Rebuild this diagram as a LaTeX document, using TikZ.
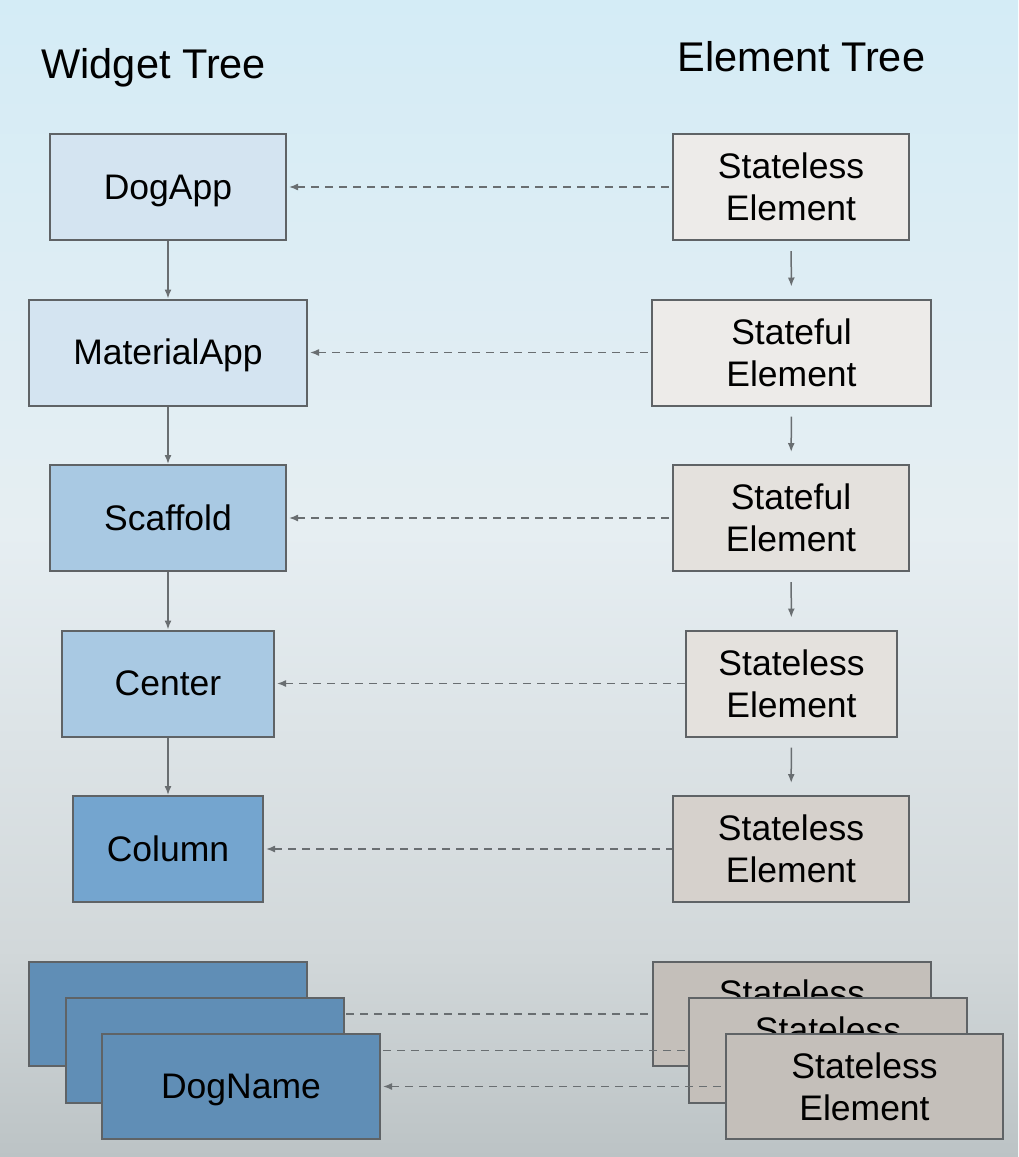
\documentclass[tikz,border=0pt]{standalone}
\usepackage{fontspec}
\setmainfont{Liberation Sans}
\usetikzlibrary{arrows.meta}

\definecolor{bgtop}{RGB}{212,236,246}
\definecolor{bgmid}{RGB}{230,238,242}
\definecolor{bglow}{RGB}{210,216,218}
\definecolor{bgbottom}{RGB}{188,195,197}
\definecolor{boxline}{RGB}{95,99,102}
\definecolor{linkgray}{RGB}{105,110,113}
\definecolor{wfillA}{RGB}{212,228,241}
\definecolor{wfillB}{RGB}{169,201,227}
\definecolor{wfillC}{RGB}{116,165,207}
\definecolor{wfillD}{RGB}{96,142,182}
\definecolor{efillA}{RGB}{237,235,233}
\definecolor{efillB}{RGB}{228,225,221}
\definecolor{efillC}{RGB}{214,209,204}
\definecolor{efillD}{RGB}{196,191,186}

% path spans 25bp..75bp of the shading
\pgfdeclareverticalshading{bgshade}{100bp}{color(0bp)=(bgbottom); color(25bp)=(bgbottom);
  color(34bp)=(bglow); color(52bp)=(bgmid); color(75bp)=(bgtop); color(100bp)=(bgtop)}

\begin{document}
\begin{tikzpicture}[x=1pt, y=-1pt, >={Latex[length=9pt,width=7pt]},
  wbox/.style={draw=boxline, line width=2pt, inner sep=0pt,
    minimum height=106pt, text height=26pt, text depth=2pt,
    font=\fontsize{35.5}{42}\selectfont},
  ebox/.style={draw=boxline, line width=2pt, inner sep=0pt,
    minimum height=106pt, align=center,
    font=\fontsize{35.5}{42}\selectfont},
  link/.style={draw=linkgray, line width=1.5pt, ->},
  map/.style={draw=linkgray, line width=1.5pt, <-, shorten <=2pt,
    dash pattern=on 8pt off 6pt}]

% Background
\shade[shading=bgshade] (0,0) rectangle (1018,1157);
\useasboundingbox (0,0) rectangle (1018,1157);

% Titles
\node[anchor=base west, font=\fontsize{41.5}{48}\selectfont] (wtitle) at (38,78) {Widget Tree};
\node[anchor=base west, font=\fontsize{41.5}{48}\selectfont] (etitle) at (674,71) {Element Tree};

% Widget tree
\node[wbox, fill=wfillA, minimum width=236pt] (dogapp) at (168,187) {DogApp};
\node[wbox, fill=wfillA, minimum width=278pt] (materialapp) at (168,352.5) {MaterialApp};
\node[wbox, fill=wfillB, minimum width=236pt] (scaffold) at (168,518) {Scaffold};
\node[wbox, fill=wfillB, minimum width=212pt] (wcenter) at (168,683.5) {Center};
\node[wbox, fill=wfillC, minimum width=190pt] (column) at (168,849) {Column};

% Element tree
\node[ebox, fill=efillA, minimum width=236pt] (elem1) at (791,187) {Stateless\\Element};
\node[ebox, fill=efillA, minimum width=279pt] (elem2) at (791.5,352.5) {Stateful\\Element};
\node[ebox, fill=efillB, minimum width=236pt] (elem3) at (791,518) {Stateful\\Element};
\node[ebox, fill=efillB, minimum width=211pt] (elem4) at (791.5,683.5) {Stateless\\Element};
\node[ebox, fill=efillC, minimum width=236pt] (elem5) at (791,849) {Stateless\\Element};

% Parent to child
\draw[link] (dogapp) -- (materialapp);
\draw[link] (materialapp) -- (scaffold);
\draw[link] (scaffold) -- (wcenter);
\draw[link] (wcenter) -- (column);
\foreach \a/\b in {elem1/elem2, elem2/elem3, elem3/elem4, elem4/elem5} {
    \draw[link, shorten <=10pt, shorten >=12pt] (\a) -- (\b);
}

% Element to widget
\draw[map] (dogapp) -- (elem1);
\draw[map] (materialapp) -- (elem2);
\draw[map] (scaffold) -- (elem3);
\draw[map] (wcenter) -- (elem4);
\draw[map] (column) -- (elem5);

% Stacked children
\node[wbox, fill=wfillD, minimum width=278pt, minimum height=104pt] (name1) at (168,1014) {};
\node[ebox, fill=efillD, minimum width=278pt, minimum height=104pt] (elem6) at (792,1014) {Stateless\\Element};
\draw[map] (name1) -- (elem6);
\node[wbox, fill=wfillD, minimum width=278pt, minimum height=105pt] (name2) at (205,1050.5) {};
\node[ebox, fill=efillD, minimum width=278pt, minimum height=105pt] (elem7) at (828,1050.5) {Stateless\\Element};
\draw[map] (name2) -- (elem7);
\node[wbox, fill=wfillD, minimum width=278pt, minimum height=105pt] (name3) at (241,1086.5) {DogName};
\node[ebox, fill=efillD, minimum width=277pt, minimum height=105pt] (elem8) at (864.5,1086.5) {Stateless\\Element};
\draw[map] (name3) -- (elem8);

\end{tikzpicture}
\end{document}
